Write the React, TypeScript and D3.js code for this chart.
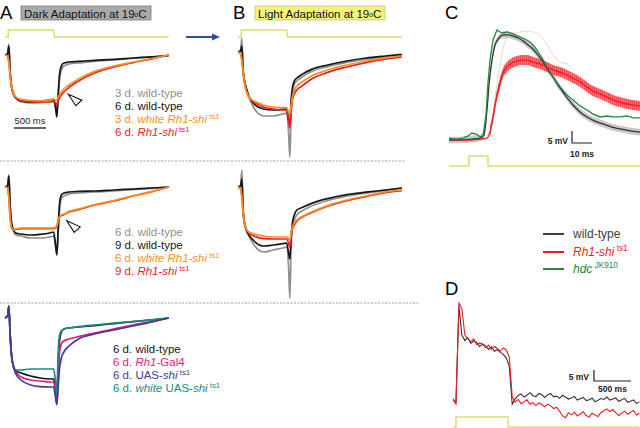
import React, { useEffect, useRef } from "react";
import * as d3 from "d3";

// ---------- ERG traces (panels A and B): time in ms, response in mV ----------
const ERG_T = [0, 40, 60, 80, 100, 130, 170, 250, 400, 550, 700, 760, 790, 810, 830, 850, 880, 920, 1000, 1150, 1400, 1700, 2000, 2300, 2560];
const ERG_STIM_T = [0, 50, 50, 760, 775, 2560];
const ERG_STIM_V = [0, 0, 1, 1, 0, 0];

// A, top row (dark adaptation, 3 d / 6 d)
const A1_WT3 = [0, 1, 5.5, -7, -14.5, -19, -21.5, -23.3, -24, -23.8, -23.2, -22.8, -25.5, -28.5, -22, -13, -7.5, -5.5, -4.5, -4, -3.2, -2.5, -1.75, -1, -0.3];
const A1_WT6 = [0, 0.5, 4.5, -8.5, -15.5, -19.5, -21.5, -23, -23.5, -23.2, -22.5, -22.2, -26.5, -31, -20, -10.5, -5.5, -4, -3.5, -3.2, -2.7, -2.2, -1.5, -0.9, -0.25];
const A1_WHITE3 = [0, -0.5, -3.5, -10, -15, -19, -21, -22.2, -22.7, -23, -22.7, -22, -22.5, -22.5, -21.2, -20, -18.5, -17, -15, -12, -8.2, -5.5, -3.5, -1.75, 0];
const A1_SHI6 = [0, -0.5, -3.5, -10, -15.2, -19.3, -21.3, -22.7, -23.3, -23.5, -23.5, -23.2, -24, -25, -23, -21.5, -20, -18.5, -16.2, -13, -9, -6, -3.8, -1.9, 0];

// A, middle row (6 d / 9 d)
const A2_WT6 = [0, 1, 6, -8, -16.5, -21.5, -24, -24.5, -25.5, -25.5, -25, -24.5, -30, -33, -24, -13, -6, -4.5, -3.5, -3, -2.5, -2, -1.3, -0.7, 0];
const A2_WT9 = [0, 0.5, 5.5, -9, -17.5, -21.5, -23, -23.5, -24, -23.7, -23, -22.5, -29, -34, -21.5, -9, -4, -3, -2.5, -2.2, -2, -1.5, -1, -0.5, 0];
const A2_WHITE6 = [0, -0.5, -5, -15, -20, -21.5, -21, -20.5, -20.5, -20.5, -20.5, -20.5, -20, -19.5, -16.5, -15, -14, -13.5, -12.2, -11, -8.8, -6.8, -4.3, -2.2, 0];
const A2_SHI9 = [0, -0.5, -5, -15, -20, -21.5, -21.2, -20.8, -20.8, -20.8, -20.8, -20.8, -20.5, -20, -17, -15.3, -14.3, -13.8, -12.5, -11.3, -9, -7, -4.5, -2.3, 0];

// A, bottom row (Gal4/UAS controls)
const A3_WT = [0, 1, 6, -8, -18, -24, -26.5, -27.5, -29, -30, -30.5, -30.5, -36, -40, -25, -12, -7, -5.5, -5, -4.5, -3.8, -2.8, -1.8, -0.9, 0];
const A3_GAL4 = [0, 1, 6, -8, -18, -24, -27, -29.5, -31, -31.5, -32, -32, -38, -43.5, -30, -18, -13, -11.5, -10.5, -9.3, -7.5, -5.5, -3.5, -1.7, 0];
const A3_UAS = [0, 1, 6, -8, -18, -24, -28, -31, -33.5, -34.3, -34.5, -34.5, -40, -43, -35, -26, -20, -17, -14, -10.5, -8, -6, -4, -2, 0];
const A3_WHITE = [0, 1, 6, -8, -18, -24, -26, -26, -25.5, -25.5, -25.5, -25.5, -32, -38, -18, -9, -6.5, -5.5, -5, -4.3, -3.5, -2.6, -1.8, -0.9, 0];

// B, top row (light adaptation)
const B1_WT3 = [0, 1, 7, -9, -14, -18.5, -22.5, -28, -32, -32, -31, -30.5, -40, -52.5, -30, -20, -16, -14.5, -12.5, -9.8, -7.3, -5.2, -3.6, -2.5, -1.6];
const B1_WT6 = [0, 0.5, 3, -9, -14, -18, -22, -26, -28.5, -29, -28.7, -28.5, -34, -36.5, -24, -18, -14.5, -13, -11.2, -8.7, -6.5, -4.5, -3, -2, -1.25];
const B1_WHITE3 = [0, -1, -4, -10, -15, -19.5, -22.5, -24.5, -26.5, -27.5, -27.8, -27.8, -30, -31, -27, -22.5, -19, -17, -15, -12, -9, -6.5, -4.5, -3, -2];
const B1_SHI6 = [0, -1, -4, -10, -15, -19.5, -22.5, -25, -27.5, -28.5, -29, -29, -34, -38, -30, -24, -21, -19, -17, -13.5, -10.2, -7.5, -5.3, -3.6, -2.5];

// B, middle row
const B2_WT6 = [0, 1, 8.5, -10, -17, -21.5, -24.5, -29, -32.5, -31.5, -30.5, -30, -40, -55.5, -30, -21, -16.5, -14, -12, -9.5, -6.8, -4.6, -3.1, -1.8, -0.6];
const B2_WT9 = [0, 0.5, 4, -12, -18, -21.5, -24, -27, -29.5, -29, -28.3, -28, -33, -36, -25, -18, -14, -11.5, -10.3, -8.2, -5.8, -3.8, -2.6, -1.5, -0.5];
const B2_WHITE6 = [0, -1, -5, -13, -18, -21, -22.5, -23.5, -24.5, -25, -25, -25, -26, -26.5, -23, -20, -18, -16.5, -14.8, -12.5, -9.3, -6.5, -4.5, -2.5, -1.5];
const B2_SHI9 = [0, -1, -5, -13, -18, -21.2, -23, -24.5, -25.8, -26, -26, -26, -28, -30, -25, -21, -19, -17, -15.1, -12.8, -9.6, -6.8, -4.8, -2.8, -1.8];

// ---------- Panel C: LMC responses to a 10 ms flash, [ms, mV] ----------
const C_WT: [number, number][] = [[0, 0], [5.5, 0], [10.5, 0.4], [15.5, 0.8], [17.5, 2.1], [19, 12.5], [20, 22.9], [21.5, 33.3], [23, 39.6], [25, 42.5], [27, 43.8], [29.5, 43.8], [32, 43.3], [34.5, 42.5], [37, 41.3], [39.5, 39.6], [42, 37.9], [44.5, 35.4], [47, 32.5], [49.5, 29.2], [52, 26.3], [54.5, 22.9], [57, 20], [59.5, 17.1], [62, 14.6], [65.5, 11.7], [69, 9.6], [73, 7.9], [77, 6.7], [81.5, 5.4], [85.5, 4.6], [90.5, 3.8], [95.5, 3.3]];
const C_SHI: [number, number][] = [[2, 0], [10.5, 0], [15.5, 0.4], [19, 0.8], [20.5, 3.3], [22, 9.6], [23.5, 16.7], [25.5, 23.8], [27, 27.9], [29, 30.4], [31.5, 32.1], [34, 32.9], [36.5, 33.3], [39, 33.3], [42, 32.5], [45.5, 31.7], [49, 30.4], [52, 29.2], [55.5, 28.3], [59, 27.1], [62, 25.8], [65.5, 24.2], [69, 22.1], [72, 20.4], [75.5, 19.2], [79, 17.9], [82, 16.7], [85.5, 15.8], [89, 15], [92, 14.6], [95.5, 14.2]];
const C_HDC: [number, number][] = [[0, 0.8], [3.5, 0.4], [7, 0.8], [9.5, 1.7], [11.5, 2.9], [13.5, 2.5], [15.5, 1.3], [17, 1.7], [18.5, 10.4], [19.5, 23.8], [20.5, 33.3], [22, 41.7], [24, 45.8], [25.5, 45], [27, 44.6], [29, 45], [30.5, 44.6], [33, 43.8], [35.5, 42.9], [38, 42.1], [40.5, 40.8], [42.5, 39.2], [44, 37.5], [46.5, 34.2], [49, 30.4], [52, 26.3], [55.5, 22.1], [59, 18.8], [62, 16.7], [65.5, 14.2], [69, 12.5], [72, 10.8], [75.5, 9.6], [79, 10], [82, 9.6], [85.5, 9.6], [89, 10], [92, 9.2], [95.5, 9.2]];
const C_SHI_DOT: [number, number][] = [[19, 0.8], [21.5, 8.3], [23.5, 20.8], [25.5, 31.3], [27.5, 39.6], [29.5, 43.3], [32, 44.6], [35.5, 45], [39, 45.4], [42, 45], [45.5, 43.8], [49, 39.6], [52, 35.4], [55.5, 32.5], [59, 31.7], [62, 29.2]];
const C_WT_SEM = 1.4;
const C_SHI_SEM = 2.1;
const C_STIM_T = [0, 10, 10, 19.5, 19.5, 95.5];
const C_STIM_V = [0, 0, 1, 1, 0, 0];

// ---------- Panel D: sustained response, sampled every 40 ms, mV ----------
const D_DT = 40;
const D_WT = [0.5, -0.5, 43, 30, 27.5, 28.8, 26.2, 27.4, 26.6, 24.8, 25.9, 25.2, 23.4, 24.6, 22.6, 23.3, 22.1, 21.2, 19.5, 16, -1.5, 1, 2.5, 3.2, 1.8, 2.6, 3.8, 2.4, 2, 3.4, 2.8, 1.6, 2.9, 3.3, 1.9, 2.2, 1.2, 2.6, 1.8, 0.9, 1.4, 2.1, 0.4, 1.0, 1.6, 0.2, 0.6, 1.3, -0.4, 0.3, 1.1, 0.7, 1.8, 0.4, 0.9, 1.4, -0.2, 0.6, 1.2, -0.6, -0.1, 0.5, -1.1, -0.4];
const D_SHI = [1, -1.5, 44.5, 42, 30, 28.4, 27, 28.2, 25.6, 26.4, 25.8, 24.2, 25.3, 23.6, 24.8, 23.9, 22.7, 24.1, 23.2, 20, 2, -0.5, 0.8, -1.2, -0.3, 0.6, -1.5, -0.8, -2.1, -0.9, -1.6, -2.6, -1.4, -2.2, -3.4, -2.8, -4.6, -6.8, -7.6, -5.4, -6.3, -5.1, -6.8, -5.9, -4.9, -6.6, -7.3, -5.6, -6.4, -7.1, -5.2, -4.4, -3.6, -4.8, -3.9, -5.3, -6.7, -5.4, -4.6, -6, -5.1, -4.3, -6.4, -5.6];
const D_STIM_T = [0, 40, 40, 745, 745, 2520];
const D_STIM_V = [0, 0, 1, 1, 0, 0];

// ---------- legends ----------
type Part = [string, string]; // text, style: "" | "i" | "s"
const LEG_A1: [string, Part[]][] = [
  ["gray", [["3 d. wild-type", ""]]],
  ["black", [["6 d. wild-type", ""]]],
  ["orange", [["3 d. ", ""], ["white Rh1-shi", "i"], ["ts1", "s"]]],
  ["red", [["6 d. ", ""], ["Rh1-shi", "i"], ["ts1", "s"]]],
];
const LEG_A2: [string, Part[]][] = [
  ["gray", [["6 d. wild-type", ""]]],
  ["black", [["9 d. wild-type", ""]]],
  ["orange", [["6 d. ", ""], ["white Rh1-shi", "i"], ["ts1", "s"]]],
  ["red", [["9 d. ", ""], ["Rh1-shi", "i"], ["ts1", "s"]]],
];
const LEG_A3: [string, Part[]][] = [
  ["black", [["6 d. wild-type", ""]]],
  ["magenta", [["6 d. ", ""], ["Rh1", "i"], ["-Gal4", ""]]],
  ["blue", [["6 d. UAS-", ""], ["shi", "i"], ["ts1", "s"]]],
  ["teal", [["6 d. ", ""], ["white", "i"], [" UAS-", ""], ["shi", "i"], ["ts1", "s"]]],
];
const LEG_C: [string, Part[]][] = [
  ["wt", [["wild-type", ""]]],
  ["red", [["Rh1-shi", "i"], ["ts1", "s"]]],
  ["green", [["hdc", "i"], ["JK910", "s"]]],
];

const COL: Record<string, string> = {
  gray: "#8f8f8f",
  black: "#161616",
  orange: "#f7901e",
  red: "#ec1c24",
  magenta: "#e6197e",
  blue: "#3a3d99",
  teal: "#1b8c7e",
  green: "#1d8a3e",
  wt: "#404040",
  stim: "#dcdc70",
};
const FONT = "Arial, 'Liberation Sans', Helvetica, sans-serif";

function legend(g: any, rows: [string, Part[]][], x: number, y0: number, dy: number, size: number) {
  rows.forEach(([c, parts], i) => {
    const t = g.append("text").attr("x", x).attr("y", y0 + i * dy).attr("font-size", size).attr("fill", COL[c]);
    parts.forEach(([s, st]) => {
      const sp = t.append("tspan").text(st === "s" ? " " + s : s);
      if (st === "i") sp.attr("font-style", "italic");
      if (st === "s") sp.attr("font-size", size * 0.68).attr("dy", -size * 0.38);
    });
  });
}

function draw(svg: any) {
  svg.attr("font-family", FONT);

  // ---- ERG panels ----
  const msPx = 0.064; // 500 ms = 32 px
  const mvPx = 2;
  const rows = [
    { x0: 5, base: 55, traces: [[A1_WT3, "gray"], [A1_WT6, "black"], [A1_SHI6, "red"], [A1_WHITE3, "orange"]] },
    { x0: 5, base: 187, traces: [[A2_WT6, "gray"], [A2_WT9, "black"], [A2_SHI9, "red"], [A2_WHITE6, "orange"]] },
    { x0: 5, base: 318, traces: [[A3_WT, "black"], [A3_GAL4, "magenta"], [A3_WHITE, "teal"], [A3_UAS, "blue"]] },
    { x0: 238, base: 52, traces: [[B1_WT3, "gray"], [B1_WT6, "black"], [B1_SHI6, "red"], [B1_WHITE3, "orange"]] },
    { x0: 238, base: 187, traces: [[B2_WT6, "gray"], [B2_WT9, "black"], [B2_SHI9, "red"], [B2_WHITE6, "orange"]] },
  ];
  const tMax = ERG_T[ERG_T.length - 1];
  rows.forEach((r) => {
    const x = d3.scaleLinear().domain([0, tMax]).range([r.x0, r.x0 + tMax * msPx]);
    const y = d3.scaleLinear().domain([0, -40]).range([r.base, r.base + 40 * mvPx]);
    const line = d3
      .line<number>()
      .x((_, i) => x(ERG_T[i]))
      .y((d) => y(d))
      .curve(d3.curveMonotoneX);
    r.traces.forEach(([vals, c]) => {
      svg
        .append("path")
        .attr("d", line(vals as number[]))
        .attr("fill", "none")
        .attr("stroke", COL[c as string])
        .attr("stroke-width", 1.7)
        .attr("stroke-linejoin", "round");
    });
  });

  // stimulus bars above A and B
  [5, 238].forEach((x0) => {
    const x = d3.scaleLinear().domain([0, tMax]).range([x0, x0 + tMax * msPx]);
    const y = d3.scaleLinear().domain([0, 1]).range([37, 30]);
    svg
      .append("path")
      .attr("d", d3.line<number>().x((_, i) => x(ERG_STIM_T[i])).y((d) => y(d))(ERG_STIM_V))
      .attr("fill", "none")
      .attr("stroke", COL.stim)
      .attr("stroke-width", 1.5);
  });

  // arrow A -> B
  svg.append("line").attr("x1", 186).attr("x2", 214).attr("y1", 37).attr("y2", 37).attr("stroke", "#2d4fa6").attr("stroke-width", 2);
  svg.append("path").attr("d", "M212,33.5 L220,37 L212,40.5 Z").attr("fill", "#2d4fa6");

  // dashed separators
  [[161, 405], [303, 420]].forEach(([yy, x2]) => {
    svg.append("line").attr("x1", 0).attr("x2", x2).attr("y1", yy).attr("y2", yy).attr("stroke", "#9a9a9a").attr("stroke-width", 1).attr("stroke-dasharray", "2,1.5");
  });

  // open arrowheads in A
  const xA = d3.scaleLinear().domain([0, tMax]).range([5, 5 + tMax * msPx]);
  [
    [989, -19.6, 55],
    [964, -16.9, 187],
  ].forEach(([t, v, base]) => {
    const px = xA(t);
    const py = base - v * mvPx;
    svg
      .append("path")
      .attr("d", `M${px},${py} L${px + 7.5},${py + 11.5} L${px + 13.5},${py + 6} Z`)
      .attr("fill", "#fff")
      .attr("stroke", "#111")
      .attr("stroke-width", 1.1);
  });

  // 500 ms scale bar in A
  svg.append("line").attr("x1", xA(140)).attr("x2", xA(640)).attr("y1", 128).attr("y2", 128).attr("stroke", "#333").attr("stroke-width", 1.3);
  svg.append("text").attr("x", xA(390)).attr("y", 123.5).attr("text-anchor", "middle").attr("font-size", 9.5).attr("fill", "#222").text("500 ms");

  // panel letters and titles
  [["A", 0], ["B", 233], ["C", 445]].forEach(([s, x]) => {
    svg.append("text").attr("x", x).attr("y", 18.5).attr("font-size", 18.5).attr("fill", "#000").text(s);
  });
  svg.append("text").attr("x", 445).attr("y", 295).attr("font-size", 18.5).attr("fill", "#000").text("D");

  [
    [21, "#aaaaaa", "#7a7a7a", "Dark Adaptation at 19"],
    [255, "#f3f27c", "#c9c860", "Light Adaptation at 19"],
  ].forEach(([x, fill, stroke, label]) => {
    svg.append("rect").attr("x", x).attr("y", 6).attr("width", 130).attr("height", 14).attr("fill", fill).attr("stroke", stroke).attr("stroke-width", 0.8);
    const t = svg.append("text").attr("x", (x as number) + 3).attr("y", 17.5).attr("font-size", 11.5).attr("fill", "#111");
    t.append("tspan").text(label as string);
    t.append("tspan").attr("font-size", 6.5).attr("dy", -1).text("o");
    t.append("tspan").attr("dy", 1).text("C");
  });

  legend(svg, LEG_A1, 115, 97, 13, 11.5);
  legend(svg, LEG_A2, 115, 236, 13, 11.5);
  legend(svg, LEG_A3, 113, 353, 13, 11.5);

  // ---- Panel C ----
  const xC = d3.scaleLinear().domain([0, 95.5]).range([449, 640]);
  const yC = d3.scaleLinear().domain([0, 50]).range([140, 20]);
  const defs = svg.append("defs");
  const pat = defs.append("pattern").attr("id", "hatch").attr("patternUnits", "userSpaceOnUse").attr("width", 2).attr("height", 4);
  pat.append("rect").attr("width", 2).attr("height", 4).attr("fill", "#f47575");
  pat.append("line").attr("x1", 0.5).attr("x2", 0.5).attr("y1", 0).attr("y2", 4).attr("stroke", "#ee3b3b").attr("stroke-width", 0.7);

  const band = (data: [number, number][], sem: number) =>
    d3
      .area<[number, number]>()
      .x((d) => xC(d[0]))
      .y0((d) => yC(d[1] - sem))
      .y1((d) => yC(d[1] + sem))
      .curve(d3.curveMonotoneX)(data);
  const lineC = (curve: any) =>
    d3
      .line<[number, number]>()
      .x((d) => xC(d[0]))
      .y((d) => yC(d[1]))
      .curve(curve);

  svg.append("path").attr("d", band(C_WT, C_WT_SEM)).attr("fill", "#c9c9c9");
  svg.append("path").attr("d", band(C_SHI.slice(4), C_SHI_SEM)).attr("fill", "url(#hatch)");
  svg.append("path").attr("d", lineC(d3.curveMonotoneX)(C_SHI_DOT)).attr("fill", "none").attr("stroke", "#f19090").attr("stroke-width", 0.8).attr("stroke-dasharray", "1.2,1.2");
  svg.append("path").attr("d", lineC(d3.curveMonotoneX)(C_WT)).attr("fill", "none").attr("stroke", "#333").attr("stroke-width", 1.3);
  svg.append("path").attr("d", lineC(d3.curveLinear)(C_HDC)).attr("fill", "none").attr("stroke", COL.green).attr("stroke-width", 1.3);
  svg.append("path").attr("d", lineC(d3.curveMonotoneX)(C_SHI)).attr("fill", "none").attr("stroke", COL.red).attr("stroke-width", 1.3);

  const yCs = d3.scaleLinear().domain([0, 1]).range([166, 156]);
  svg
    .append("path")
    .attr("d", d3.line<number>().x((_, i) => xC(C_STIM_T[i])).y((d) => yCs(d))(C_STIM_V))
    .attr("fill", "none")
    .attr("stroke", COL.stim)
    .attr("stroke-width", 1.5);

  // C scale bar: 5 mV / 10 ms
  svg
    .append("path")
    .attr("d", `M${xC(61.5)},${yC(3.75)} L${xC(61.5)},${yC(-1.25)} L${xC(71.5)},${yC(-1.25)}`)
    .attr("fill", "none")
    .attr("stroke", "#222")
    .attr("stroke-width", 1.2);
  svg.append("text").attr("x", xC(61.5) - 4).attr("y", yC(-1.25) + 0.5).attr("text-anchor", "end").attr("font-size", 8.5).attr("font-weight", "bold").attr("fill", "#222").text("5 mV");
  svg.append("text").attr("x", xC(66.5)).attr("y", 157).attr("text-anchor", "middle").attr("font-size", 8.5).attr("font-weight", "bold").attr("fill", "#222").text("10 ms");

  // C legend
  const legY = [234, 252, 269];
  const legCol = [COL.wt, COL.red, COL.green];
  legY.forEach((yy, i) => {
    svg.append("line").attr("x1", 543).attr("x2", 564).attr("y1", yy).attr("y2", yy).attr("stroke", legCol[i]).attr("stroke-width", 2);
  });
  const gl = svg.append("g");
  LEG_C.forEach((row, i) => legend(gl, [row], 573, legY[i] + 4, 0, 12));

  // ---- Panel D ----
  const xD = d3.scaleLinear().domain([0, D_DT * (D_WT.length - 1)]).range([453, 453 + D_DT * (D_WT.length - 1) * 0.074]);
  const yD = d3.scaleLinear().domain([0, 50]).range([401, 291]);
  const lineD = d3
    .line<number>()
    .x((_, i) => xD(i * D_DT))
    .y((d) => yD(d));
  svg.append("path").attr("d", lineD(D_WT)).attr("fill", "none").attr("stroke", "#333").attr("stroke-width", 1.1);
  svg.append("path").attr("d", lineD(D_SHI)).attr("fill", "none").attr("stroke", COL.red).attr("stroke-width", 1.1);

  const yDs = d3.scaleLinear().domain([0, 1]).range([427, 417]);
  svg
    .append("path")
    .attr("d", d3.line<number>().x((_, i) => xD(D_STIM_T[i])).y((d) => yDs(d))(D_STIM_V))
    .attr("fill", "none")
    .attr("stroke", COL.stim)
    .attr("stroke-width", 1.5);

  // D scale bar: 5 mV / 500 ms
  svg
    .append("path")
    .attr("d", `M${xD(1905)},${yD(14.1)} L${xD(1905)},${yD(9.1)} L${xD(2405)},${yD(9.1)}`)
    .attr("fill", "none")
    .attr("stroke", "#222")
    .attr("stroke-width", 1.2);
  svg.append("text").attr("x", xD(1905) - 5).attr("y", yD(9.1) - 1).attr("text-anchor", "end").attr("font-size", 8.5).attr("font-weight", "bold").attr("fill", "#222").text("5 mV");
  svg.append("text").attr("x", xD(2155)).attr("y", 392).attr("text-anchor", "middle").attr("font-size", 8.5).attr("font-weight", "bold").attr("fill", "#222").text("500 ms");
}

export default function App() {
  const ref = useRef<SVGSVGElement>(null);
  useEffect(() => {
    const svg = d3.select(ref.current);
    svg.selectAll("*").remove();
    draw(svg);
  }, []);
  return (
    <svg
      ref={ref}
      width={640}
      height={428}
      style={{ position: "absolute", left: 0, top: 0, background: "#fff", display: "block" }}
    />
  );
}
